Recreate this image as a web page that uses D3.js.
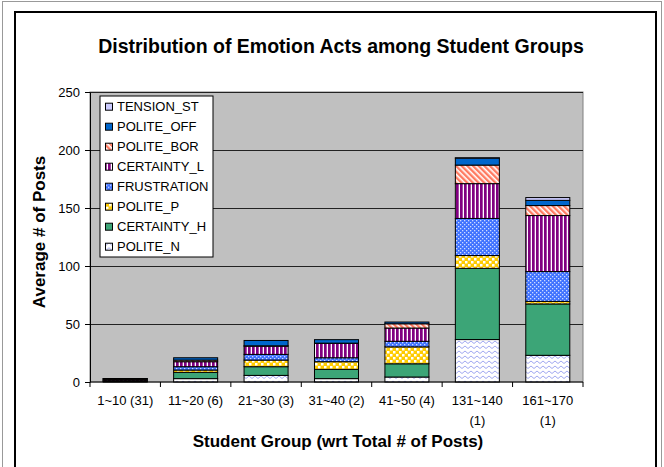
<!DOCTYPE html>
<html>
<head>
<meta charset="utf-8">
<script src="https://cdn.jsdelivr.net/npm/d3@7"></script>
<style>
  body { margin: 0; background: #fff; }
  svg { display: block; font-family: Arial, "Liberation Sans", sans-serif; }
</style>
</head>
<body>
<svg width="664" height="467"></svg>
<script>
// categories (x axis)
const groups = ['1~10 (31)', '11~20 (6)', '21~30 (3)', '31~40 (2)', '41~50 (4)', '131~140 (1)', '161~170 (1)']

// series, bottom of the stack first
const seriesNames = ['POLITE_N', 'CERTAINTY_H', 'POLITE_P', 'FRUSTRATION', 'CERTAINTY_L', 'POLITE_BOR', 'POLITE_OFF', 'TENSION_ST']

// values
const politeN     = [0.3, 2.9, 5.7, 2.9, 4.3, 36.6, 23.0]
const certaintyH  = [0.5, 5.4, 7.5, 8.0, 11.4, 61.4, 44.3]
const politeP     = [0.3, 2.0, 5.7, 6.6, 14.6, 11.0, 2.2]
const frustration = [0.4, 2.9, 4.9, 3.4, 4.8, 32.0, 25.7]
const certaintyL  = [0.8, 4.3, 7.1, 12.3, 11.4, 30.0, 48.3]
const politeBor   = [0.3, 1.4, 0.3, 0.3, 3.7, 16.0, 8.6]
const politeOff   = [0.3, 2.0, 4.6, 3.0, 1.5, 6.0, 4.5]
const tensionSt   = [0.1, 0.0, 0.0, 0.0, 0.0, 0.3, 2.4]

const yTicks = [0, 50, 100, 150, 200, 250]

const seriesValues = [politeN, certaintyH, politeP, frustration, certaintyL, politeBor, politeOff, tensionSt]

// table for d3.stack
const rows = groups.map((g, i) => {
  const row = { group: g }
  seriesNames.forEach((s, k) => { row[s] = seriesValues[k][i] })
  return row
})

const svg = d3.select('svg')

// plot area
const plot = { left: 90, right: 583, top: 92, bottom: 382 }

// chart frame
svg.append('rect')
  .attr('x', 2.5).attr('y', 1.5).attr('width', 659).attr('height', 475)
  .attr('fill', 'none').attr('stroke', '#999')
svg.append('rect')
  .attr('x', 15).attr('y', 12).attr('width', 641).attr('height', 475)
  .attr('fill', 'none').attr('stroke', '#000').attr('stroke-width', 2)

// patterns
const defs = svg.append('defs')

// POLITE_N: light blue waves on white
const pN = defs.append('pattern').attr('id', 'p-polite-n')
  .attr('patternUnits', 'userSpaceOnUse').attr('width', 6).attr('height', 5)
pN.append('rect').attr('width', 6).attr('height', 5).attr('fill', '#fff')
pN.append('path').attr('d', 'M0,3.5 L3,1 L6,3.5').attr('fill', 'none')
  .attr('stroke', '#a0a8f0').attr('stroke-width', 1)

// POLITE_P: yellow with white squares
const pP = defs.append('pattern').attr('id', 'p-polite-p')
  .attr('patternUnits', 'userSpaceOnUse').attr('width', 6).attr('height', 6)
pP.append('rect').attr('width', 6).attr('height', 6).attr('fill', '#ffcc00')
pP.append('rect').attr('x', 0).attr('y', 0).attr('width', 2.5).attr('height', 2.5).attr('fill', '#fff')
pP.append('rect').attr('x', 3).attr('y', 3).attr('width', 2.5).attr('height', 2.5).attr('fill', '#fff')

// FRUSTRATION: blue with white dots
const pF = defs.append('pattern').attr('id', 'p-frustration')
  .attr('patternUnits', 'userSpaceOnUse').attr('width', 4).attr('height', 4)
pF.append('rect').attr('width', 4).attr('height', 4).attr('fill', '#3f72ff')
pF.append('rect').attr('x', 0).attr('y', 0).attr('width', 1.3).attr('height', 1.3).attr('fill', '#cfdcff')
pF.append('rect').attr('x', 2).attr('y', 2).attr('width', 1.3).attr('height', 1.3).attr('fill', '#cfdcff')

// CERTAINTY_L: purple vertical stripes
const pL = defs.append('pattern').attr('id', 'p-certainty-l')
  .attr('patternUnits', 'userSpaceOnUse').attr('width', 4).attr('height', 4)
pL.append('rect').attr('width', 4).attr('height', 4).attr('fill', '#fff')
pL.append('rect').attr('width', 2.7).attr('height', 4).attr('fill', '#800080')

// POLITE_BOR: salmon diagonal hatch
const pB = defs.append('pattern').attr('id', 'p-polite-bor')
  .attr('patternUnits', 'userSpaceOnUse').attr('width', 4).attr('height', 4)
  .attr('patternTransform', 'rotate(-45)')
pB.append('rect').attr('width', 4).attr('height', 4).attr('fill', '#fff')
pB.append('rect').attr('width', 2.4).attr('height', 4).attr('fill', '#ff7a60')

const fills = {
  POLITE_N: 'url(#p-polite-n)',
  CERTAINTY_H: '#3ca577',
  POLITE_P: 'url(#p-polite-p)',
  FRUSTRATION: 'url(#p-frustration)',
  CERTAINTY_L: 'url(#p-certainty-l)',
  POLITE_BOR: 'url(#p-polite-bor)',
  POLITE_OFF: '#0066cc',
  TENSION_ST: '#ccccff'
}

// scales
const xScale = d3.scaleBand().domain(groups).range([plot.left, plot.right]).padding(0)
const yScale = d3.scaleLinear().domain([0, 250]).range([plot.bottom, plot.top])
const barWidth = xScale.step() / 1.6

// plot background
svg.append('rect')
  .attr('x', plot.left).attr('y', plot.top)
  .attr('width', plot.right - plot.left).attr('height', plot.bottom - plot.top)
  .attr('fill', '#c0c0c0').attr('stroke', '#808080')

// gridlines
svg.append('g')
  .attr('transform', `translate(${plot.left},0)`)
  .call(d3.axisLeft(yScale).tickValues(yTicks.slice(1)).tickSize(-(plot.right - plot.left)).tickFormat(''))
  .call(g => g.select('.domain').remove())
  .call(g => g.selectAll('line').attr('stroke', '#222'))

// stacked bars
const stacked = d3.stack().keys(seriesNames)(rows)

svg.append('g').selectAll('g')
  .data(stacked)
  .join('g')
  .attr('fill', d => fills[d.key])
  .selectAll('rect')
  .data(d => d)
  .join('rect')
  .attr('x', d => xScale(d.data.group) + (xScale.step() - barWidth) / 2)
  .attr('y', d => yScale(d[1]))
  .attr('width', barWidth)
  .attr('height', d => Math.max(0, yScale(d[0]) - yScale(d[1])))
  .attr('stroke', '#000')
  .attr('stroke-width', 1)

// y axis
svg.append('g')
  .attr('transform', `translate(${plot.left},0)`)
  .call(d3.axisLeft(yScale).tickValues(yTicks).tickSize(5).tickSizeOuter(0).tickPadding(5))
  .call(g => g.selectAll('text').attr('font-size', 13).attr('fill', '#000').attr('font-family', 'Arial, "Liberation Sans", sans-serif'))
  .call(g => g.selectAll('line, path').attr('stroke', '#000'))

// x axis: ticks between categories, labels centred
const xAxisG = svg.append('g').attr('transform', `translate(0,${plot.bottom})`)
xAxisG.append('line')
  .attr('x1', plot.left).attr('x2', plot.right)
  .attr('stroke', '#000')
xAxisG.selectAll('.tick')
  .data(groups.concat(['end']))
  .join('line')
  .attr('x1', (d, i) => plot.left + i * xScale.step())
  .attr('x2', (d, i) => plot.left + i * xScale.step())
  .attr('y1', 0).attr('y2', 5)
  .attr('stroke', '#000')

const xLabels = xAxisG.selectAll('text')
  .data(groups)
  .join('text')
  .attr('x', d => xScale(d) + xScale.step() / 2)
  .attr('y', 23)
  .attr('text-anchor', 'middle')
  .attr('font-size', 13)
  .attr('fill', '#000')

xLabels.each(function (d) {
  const t = d3.select(this)
  t.text(d)
  if (this.getComputedTextLength() > xScale.step() - 4) {
    const parts = d.split(' ')
    t.text('')
    parts.forEach((p, k) => {
      t.append('tspan').attr('x', xScale(d) + xScale.step() / 2).attr('dy', k === 0 ? 0 : 20).text(p)
    })
  }
})

// legend
const legend = svg.append('g').attr('transform', 'translate(100,96)')
legend.append('rect')
  .attr('width', 113).attr('height', 161)
  .attr('fill', '#fff').attr('stroke', '#000')

const legendOrder = seriesNames.slice().reverse()
const item = legend.selectAll('.item')
  .data(legendOrder)
  .join('g')
  .attr('transform', (d, i) => `translate(0,${10.7 + i * 20})`)
item.append('rect')
  .attr('x', 5.5).attr('y', -3.5).attr('width', 7).attr('height', 7)
  .attr('fill', d => fills[d]).attr('stroke', '#000')
item.append('text')
  .attr('x', 17).attr('y', 4.5)
  .attr('font-size', 13)
  .text(d => d)

// titles
svg.append('text')
  .attr('x', 341).attr('y', 53)
  .attr('text-anchor', 'middle')
  .attr('font-size', 19.5).attr('font-weight', 'bold')
  .text('Distribution of Emotion Acts among Student Groups')

svg.append('text')
  .attr('x', 338).attr('y', 447)
  .attr('text-anchor', 'middle')
  .attr('font-size', 17).attr('font-weight', 'bold')
  .text('Student Group (wrt Total # of Posts)')

svg.append('text')
  .attr('transform', 'translate(45,232) rotate(-90)')
  .attr('text-anchor', 'middle')
  .attr('font-size', 17).attr('font-weight', 'bold')
  .text('Average # of Posts')
</script>
</body>
</html>
